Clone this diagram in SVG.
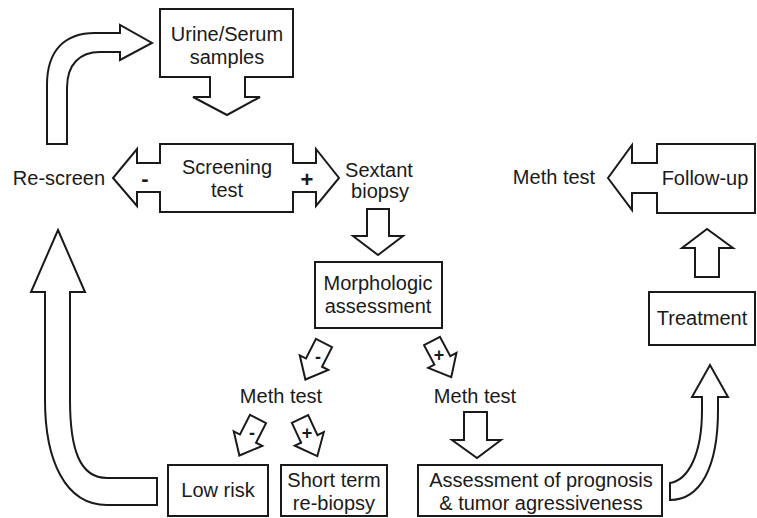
<svg xmlns="http://www.w3.org/2000/svg" width="757" height="518" viewBox="0 0 757 518">
<style>
.s{fill:#fff;stroke:#1a1a1a;stroke-width:2;stroke-linejoin:miter}
text{font-family:"Liberation Sans",Arial,sans-serif;font-size:20px;fill:#1a1a1a;text-anchor:middle}
.sg{font-weight:bold;font-size:22px}
.ss{font-weight:bold;font-size:18px}
</style>
<defs>
<path id="tilt" d="M-9,0 L9,0 L9,22 L16,22 L0,41 L-16,22 L-9,22 Z"/>
</defs>
<rect width="757" height="518" fill="#fff"/>
<g id="connectors">
<path class="s" d="M47,144 L47,85 C47,50 65,33 95,33 L120,33 L120,25 L152,43 L120,60 L120,52 L100,52 C80,52 67,64 67,88 L67,144 Z"/>
<path class="s" d="M58,230 L85,292 L70,292 L70,400 C70,450 80,478 107,478 L157,478 L157,505 L107,505 C65,505 45,460 45,400 L45,292 L31,292 Z"/>
<path class="s" d="M670,483 C688,480 702,455 702,410 L702,397 L692,397 L710,365 L728,397 L718,397 L718,410 C718,468 700,500 670,500 Z"/>
<path class="s" d="M367,209 L389,209 L389,236 L403,236 L378,255 L353,236 L367,236 Z"/>
<path class="s" d="M464,412 L487,412 L487,440 L501,440 L477,458 L452,440 L464,440 Z"/>
<path class="s" d="M695,277 L695,248 L682,248 L707,229 L733,248 L719,248 L719,277 Z"/>
<use href="#tilt" class="s" transform="translate(324,343) rotate(27)"/>
<text class="ss" x="318" y="363">-</text>
<use href="#tilt" class="s" transform="translate(432,341) rotate(-28)"/>
<text class="ss" x="439" y="361">+</text>
<use href="#tilt" class="s" transform="translate(258,419) rotate(27)"/>
<text class="ss" x="252" y="439">-</text>
<use href="#tilt" class="s" transform="translate(300,419) rotate(-25)"/>
<text class="ss" x="307" y="439">+</text>
</g>
<g id="urine">
<path class="s" d="M160,9 L293,9 L293,77 L245,77 L245,97 L260,97 L227,115 L193,97 L210,97 L210,77 L160,77 Z"/>
<text x="227" y="41">Urine/Serum</text>
<text x="227" y="64">samples</text>
</g>
<g id="screening">
<path class="s" d="M160,144 L293,144 L293,163 L316,163 L316,149 L339,178 L316,206 L316,192 L293,192 L293,212 L160,212 L160,192 L137,192 L137,206 L113,178 L137,149 L137,163 L160,163 Z"/>
<text x="227" y="174">Screening</text>
<text x="227" y="197">test</text>
<text class="sg" x="145" y="186">-</text>
<text class="sg" x="307" y="187">+</text>
</g>
<g id="rescreen"><text x="59" y="185">Re-screen</text></g>
<g id="sextant">
<text x="379" y="177">Sextant</text>
<text x="380" y="198">biopsy</text>
</g>
<g id="morph">
<rect class="s" x="315" y="262" width="127" height="66"/>
<text x="378" y="290">Morphologic</text>
<text x="378" y="313">assessment</text>
</g>
<g id="meth-left"><text x="281" y="403">Meth test</text></g>
<g id="meth-right"><text x="475" y="403">Meth test</text></g>
<g id="lowrisk">
<rect class="s" x="168" y="465" width="100" height="51"/>
<text x="218" y="497">Low risk</text>
</g>
<g id="shortterm">
<rect class="s" x="281" y="465" width="106" height="51"/>
<text x="334" y="487">Short term</text>
<text x="334" y="510">re-biopsy</text>
</g>
<g id="assessment">
<rect class="s" x="418" y="465" width="244" height="51"/>
<text x="541" y="487">Assessment of prognosis</text>
<text x="541" y="510">&amp; tumor agressiveness</text>
</g>
<g id="treatment">
<rect class="s" x="649" y="292" width="106" height="53"/>
<text x="702" y="325">Treatment</text>
</g>
<g id="followup">
<path class="s" d="M755,144 L657,144 L657,163 L632,163 L632,145 L608,178 L632,210 L632,193 L657,193 L657,213 L755,213 Z"/>
<text x="705" y="185">Follow-up</text>
</g>
<g id="meth-top"><text x="554" y="184">Meth test</text></g>
</svg>
